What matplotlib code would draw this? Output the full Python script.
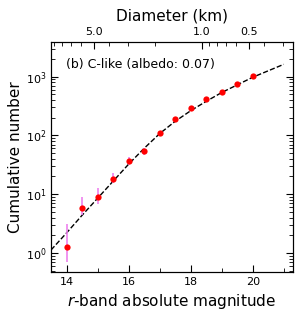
import numpy as np
import matplotlib
matplotlib.use('Agg')
import matplotlib.pyplot as plt
from matplotlib.ticker import LogLocator, NullFormatter, MultipleLocator

# observed cumulative counts
mag = [14.0, 14.5, 15.0, 15.5, 16.0, 16.5, 17.0, 17.5, 18.0, 18.5, 19.0, 19.5, 20.0]
count = [1.24, 5.8, 9.0, 18.0, 37, 54, 109, 192, 288, 410, 555, 748, 1030]
err_lo = [0.54, 1.4, 2.2, 2.8, 6, 7, 10, 14, 17, 20, 24, 27, 32]
err_hi = [1.93, 3.0, 3.5, 4.8, 6, 7, 10, 14, 17, 20, 24, 27, 32]

# fitted model (dashed curve)
fit_mag = [13.5, 14.0, 14.5, 15.0, 15.5, 16.0, 16.5, 17.0, 17.5, 18.0, 18.5, 19.0, 19.5, 20.0, 20.5, 21.0]
fit_log = [0.05, 0.34, 0.64, 0.93, 1.22, 1.51, 1.78, 2.03, 2.24, 2.42, 2.58, 2.73, 2.86, 2.99, 3.10, 3.21]

# top axis: diameter ticks (km)
diam_major = [5.0, 1.0, 0.5]
diam_minor = [9, 8, 7, 6, 4, 3, 2, 0.9, 0.8, 0.7, 0.6, 0.4, 0.3]
albedo = 0.07


def diam_to_mag(d):
    d = np.asarray(d, dtype=float)
    return 5 * np.log10(1329.0 / (d * np.sqrt(albedo))) - 0.14


fig = plt.figure(figsize=(3.0, 3.2), dpi=100)
ax = fig.add_axes([0.17, 0.151, 0.807, 0.718])

ax.plot(fit_mag, 10 ** np.array(fit_log), color='black', linestyle='--', linewidth=1.0, zorder=2)
ax.errorbar(mag, count, yerr=[err_lo, err_hi], fmt='none', ecolor='violet', elinewidth=1.2, capsize=0, zorder=3)
ax.plot(mag, count, 'o', color='red', markersize=4.5, markeredgewidth=0, zorder=4)

ax.set_yscale('log')
ax.set_xlim(13.5, 21.3)
ax.set_ylim(0.48, 3900)

ax.xaxis.set_major_locator(MultipleLocator(2))
ax.xaxis.set_minor_locator(MultipleLocator(1))
ax.yaxis.set_major_locator(LogLocator(base=10, numticks=10))
ax.yaxis.set_minor_locator(LogLocator(base=10, subs=np.arange(2, 10), numticks=10))
ax.yaxis.set_minor_formatter(NullFormatter())
ax.tick_params(which='both', direction='in', top=False, right=True, labelsize=8)
ax.tick_params(which='major', length=5)
ax.tick_params(which='minor', length=3)

ax.set_xlabel(r'$r$-band absolute magnitude', fontsize=11, labelpad=4)
ax.set_ylabel('Cumulative number', fontsize=11, labelpad=2)
ax.text(0.06, 0.93, '(b) C-like (albedo: 0.07)', transform=ax.transAxes, fontsize=9, va='top')

ax2 = ax.twiny()
ax2.set_xlim(ax.get_xlim())
ax2.set_xticks(diam_to_mag(diam_major))
ax2.set_xticklabels(['%.1f' % d for d in diam_major])
ax2.set_xticks(diam_to_mag(diam_minor), minor=True)
ax2.tick_params(which='both', direction='in', labelsize=8)
ax2.tick_params(which='major', length=5)
ax2.tick_params(which='minor', length=3)
ax2.set_xlabel('Diameter (km)', fontsize=11, labelpad=5)

fig.savefig('out.png', dpi=100)
